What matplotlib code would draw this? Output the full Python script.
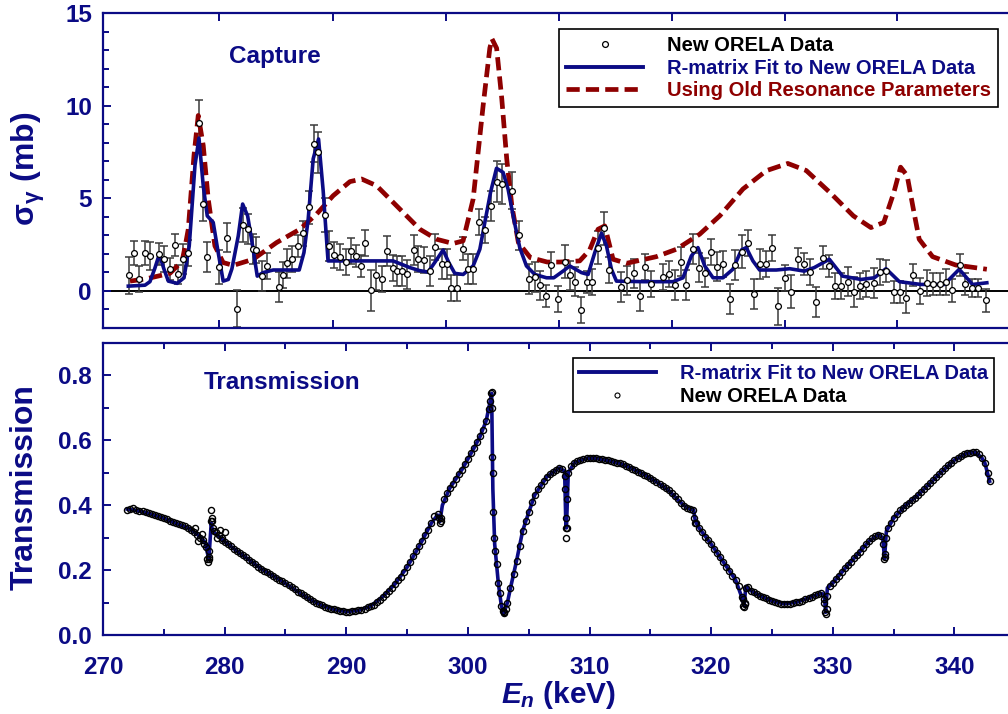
import numpy as np
import matplotlib
matplotlib.use("Agg")
import matplotlib.pyplot as plt
from matplotlib.lines import Line2D
from matplotlib.ticker import MultipleLocator, FixedLocator, NullFormatter

plt.rcParams['font.family'] = ['Liberation Sans', 'DejaVu Sans']
plt.rcParams['font.weight'] = 'bold'
plt.rcParams['mathtext.fontset'] = 'custom'
plt.rcParams['mathtext.rm'] = 'Liberation Sans'
plt.rcParams['mathtext.it'] = 'Liberation Sans:italic:bold'
plt.rcParams['mathtext.bf'] = 'Liberation Sans:bold'

NAVY = '#0b0b85'
DKRED = '#8e0000'

# ---------------- capture data (keV, mb) ----------------
cap_e = [272.16, 272.55, 272.96, 273.45, 273.86, 274.63, 275.01, 275.50, 275.89, 276.19,
         276.60, 277.01, 277.91, 278.19, 278.57, 279.53, 280.16, 280.99, 281.48, 281.89,
         282.30, 282.60, 283.04, 283.45, 284.46, 284.82, 285.15, 285.53, 286.05, 286.46,
         286.93, 287.31, 287.69, 288.24, 288.60, 288.98, 289.47, 289.97, 290.38, 290.79,
         291.17, 291.58, 292.07, 292.48, 292.90, 293.31, 293.80, 294.18, 294.59, 295.00,
         295.55, 295.91, 296.38, 296.87, 297.33, 297.83, 298.24, 298.65, 299.14, 299.56,
         300.02, 300.43, 300.92, 301.39, 301.88, 302.35, 302.81, 303.61, 304.21, 304.99,
         305.55, 305.96, 306.43, 306.87, 307.42, 307.95, 308.36, 308.81, 309.28, 309.78,
         310.19, 310.72, 311.16, 311.58, 312.60, 313.09, 313.62, 314.17, 314.54, 315.09,
         316.05, 316.52, 317.02, 317.52, 317.93, 318.49, 318.96, 319.46, 319.98, 320.49,
         321.01, 321.51, 321.95, 322.51, 323.03, 323.53, 324.03, 324.50, 325.00, 325.52,
         326.10, 326.60, 327.10, 327.60, 328.12, 328.60, 329.16, 329.70, 330.18, 330.68,
         331.27, 331.76, 332.25, 332.75, 333.35, 333.87, 334.40, 335.00, 335.50, 336.00,
         336.61, 337.16, 337.73, 338.25, 338.80, 339.30, 339.79, 340.45, 340.89, 341.48,
         341.90, 342.58]
cap_v = [0.84, 2.03, 0.66, 2.03, 1.89, 1.98, 1.71, 1.17, 2.48, 0.89,
         1.74, 2.03, 9.08, 4.69, 1.83, 1.29, 2.88, -0.97, 3.55, 3.33,
         2.25, 2.20, 0.80, 1.35, 0.22, 0.84, 1.49, 1.71, 2.43, 3.10,
         4.51, 7.94, 7.49, 4.09, 2.43, 1.94, 1.83, 1.56, 2.16, 1.89,
         1.35, 2.61, 0.03, 0.84, 0.62, 2.16, 1.22, 1.07, 1.07, 0.89,
         2.21, 1.71, 1.65, 1.07, 2.38, 1.44, 1.44, 0.17, 0.17, 2.29,
         1.17, 1.17, 3.73, 3.30, 4.60, 5.90, 5.77, 5.41, 3.00, 0.66,
         0.75, 0.30, -0.28, 1.40, -0.41, 1.58, 0.84, 0.50, -1.04, 0.50,
         0.50, 2.34, 3.37, 1.13, 0.23, 0.57, 0.95, -0.28, 1.29, 0.39,
         0.75, 0.89, 0.31, 1.58, 0.31, 2.25, 1.26, 0.99, 2.10, 1.31,
         1.44, -0.42, 1.40, 2.12, 2.61, -0.15, 1.47, 1.44, 2.34, -0.82,
         0.71, -0.04, 1.71, 1.44, 1.02, -0.61, 1.80, 1.35, 0.26, 0.26,
         0.50, -0.04, 0.26, 0.39, 0.44, 1.02, 1.07, -0.06, -0.06, -0.37,
         0.86, 0.00, 0.44, 0.39, 0.39, 0.50, 0.03, 1.38, 0.39, 0.17,
         0.17, -0.51]
cap_err = [1.0, 0.65, 0.7, 0.65, 0.75, 0.6, 0.7, 0.6, 0.6, 0.5,
           0.8, 0.7, 1.2, 0.9, 0.8, 0.9, 0.8, 1.0, 0.9, 0.8,
           0.8, 0.7, 0.8, 0.7, 0.8, 0.7, 0.8, 0.7, 0.6, 0.7,
           0.9, 1.0, 1.1, 0.9, 0.8, 0.7, 0.7, 0.7, 0.7, 0.6,
           0.6, 0.7, 1.1, 0.8, 0.7, 0.8, 0.7, 0.8, 0.8, 0.8,
           0.8, 0.7, 0.7, 0.8, 0.7, 0.8, 0.8, 0.7, 0.7, 0.6,
           0.8, 0.8, 0.7, 0.7, 0.8, 1.1, 1.1, 1.0, 0.8, 0.8,
           0.8, 0.8, 0.6, 0.7, 0.7, 0.9, 0.8, 0.8, 0.7, 0.6,
           0.7, 0.9, 0.9, 0.7, 0.8, 0.8, 0.8, 0.8, 0.7, 0.7,
           0.7, 0.7, 0.8, 0.8, 0.8, 0.8, 0.8, 0.8, 0.7, 0.8,
           0.7, 0.8, 0.8, 0.9, 0.7, 0.8, 0.8, 0.7, 0.7, 1.0,
           0.7, 0.9, 0.6, 0.6, 0.7, 0.8, 0.6, 0.6, 0.7, 0.7,
           0.8, 0.8, 0.7, 0.7, 0.8, 0.7, 0.6, 0.6, 0.6, 0.8,
           0.6, 0.7, 0.7, 0.6, 0.6, 0.7, 0.6, 0.6, 0.6, 0.5,
           0.5, 0.6]

# R-matrix fit to capture
fit_e = [272.08, 273.45, 273.86, 274.25, 274.63, 275.0, 275.37, 276.1, 276.66, 277.09,
         277.56, 277.89, 278.24, 278.57, 279.06, 279.47, 279.88, 280.3, 280.6, 281.12,
         281.48, 281.89, 282.3, 282.68, 283.17, 283.99, 285.09, 286.13, 286.52, 286.87,
         287.28, 287.72, 288.1, 288.5, 288.92, 290.0, 291.0, 292.0, 293.85, 294.5,
         295.23, 296.0, 296.73, 297.36, 297.96, 298.43, 298.92, 299.61, 300.43, 300.98,
         301.39, 301.86, 302.35, 302.89, 303.3, 303.77, 304.26, 304.81, 305.5, 306.46,
         307.06, 307.82, 308.37, 309.33, 309.88, 310.43, 310.98, 311.39, 311.8, 312.21,
         314.4, 316.86, 317.68, 318.37, 318.91, 319.47, 320.15, 320.97, 321.78, 322.48,
         322.88, 323.43, 323.98, 325.35, 326.45, 327.65, 328.47, 329.71, 330.8, 332.31,
         333.41, 334.37, 335.47, 337.24, 339.16, 340.39, 341.48, 342.66]
fit_v = [0.26, 0.31, 0.50, 1.2, 1.98, 1.2, 0.53, 0.41, 0.71, 2.43,
         6.77, 8.25, 5.68, 4.05, 3.70, 2.07, 0.53, 0.62, 1.2, 2.97,
         4.69, 4.05, 2.43, 0.80, 0.99, 1.13, 1.13, 1.13, 2.07, 3.88,
         7.13, 8.2, 5.41, 1.62, 1.62, 1.62, 1.62, 1.62, 1.62, 1.45,
         1.26, 1.1, 1.02, 1.62, 2.21, 1.53, 0.95, 0.89, 1.35, 2.25,
         3.70, 5.32, 6.62, 6.40, 5.50, 3.88, 2.34, 1.35, 0.89, 0.71,
         0.71, 1.07, 1.35, 0.99, 0.89, 2.07, 3.12, 2.43, 1.17, 0.53,
         0.50, 0.50, 0.71, 1.89, 2.34, 1.35, 0.71, 0.71, 1.17, 2.21,
         2.34, 1.62, 1.13, 1.13, 1.20, 1.07, 1.26, 1.71, 0.80, 0.62,
         0.71, 1.20, 0.50, 0.35, 0.35, 1.17, 0.35, 0.44]

# calculation with old resonance parameters
old_e = [272.22, 273.59, 275.5, 276.5, 276.75, 277.01, 277.48, 277.83, 278.24, 278.65,
         279.2, 279.88, 280.71, 282.35, 284.27, 286.19, 287.56, 288.92, 290.3, 291.26,
         292.49, 294.4, 296.05, 297.42, 298.78, 299.6, 300.43, 301.25, 301.8, 301.98,
         302.36, 302.78, 303.19, 303.61, 304.15, 305.13, 306.52, 307.55, 309.19, 310.0,
         310.7, 311.25, 311.93, 313.03, 315.49, 317.14, 319.05, 320.7, 322.61, 324.53,
         326.3, 327.81, 329.75, 331.69, 333.13, 334.19, 335.02, 335.57, 336.11, 336.67,
         337.1, 338.2, 340.1, 342.66]
old_v = [0.53, 0.66, 0.95, 1.6, 2.4, 3.33, 7.31, 9.47, 7.85, 4.96,
         2.43, 1.53, 1.38, 1.71, 2.61, 3.33, 4.15, 5.14, 5.90, 6.04,
         5.68, 4.42, 3.33, 2.79, 2.56, 2.70, 4.96, 10.0, 13.1, 13.6,
         13.1, 10.4, 7.13, 4.6, 2.61, 1.8, 1.56, 1.56, 1.62, 2.2,
         3.33, 3.51, 1.71, 1.49, 1.85, 2.25, 3.06, 4.05, 5.5, 6.49,
         6.88, 6.5, 5.32, 4.05, 3.42, 3.7, 5.32, 6.68, 6.22, 4.24,
         2.79, 1.85, 1.40, 1.17]

# ---------------- transmission ----------------
# data read every 0.25 keV starting at 272.0 keV
trans_start = 272.0
trans_step = 0.25
trans_data = [0.386, 0.389, 0.390, 0.386, 0.383, 0.381, 0.378, 0.376, 0.373, 0.370,
              0.366, 0.363, 0.360, 0.356, 0.351, 0.347, 0.344, 0.341, 0.338, 0.336,
              0.331, 0.324, 0.316, 0.308, 0.300, 0.293, 0.270, 0.240, 0.350, 0.318,
              0.308, 0.298, 0.287, 0.281, 0.274, 0.266, 0.259, 0.252, 0.246, 0.239,
              0.232, 0.225, 0.218, 0.211, 0.204, 0.198, 0.193, 0.187, 0.182, 0.176,
              0.171, 0.165, 0.159, 0.154, 0.147, 0.141, 0.134, 0.128, 0.122, 0.116,
              0.110, 0.104, 0.099, 0.095, 0.091, 0.087, 0.084, 0.081, 0.079, 0.077,
              0.075, 0.073, 0.072, 0.072, 0.073, 0.074, 0.076, 0.078, 0.081, 0.085,
              0.089, 0.094, 0.101, 0.109, 0.118, 0.127, 0.136, 0.146, 0.157, 0.168,
              0.180, 0.194, 0.209, 0.225, 0.242, 0.258, 0.274, 0.291, 0.307, 0.323,
              0.345, 0.368, 0.372, 0.350, 0.420, 0.438, 0.452, 0.466, 0.481, 0.495,
              0.509, 0.526, 0.543, 0.560, 0.576, 0.594, 0.612, 0.633, 0.660, 0.697,
              0.550, 0.260, 0.160, 0.090, 0.070, 0.100, 0.145, 0.188, 0.229, 0.275,
              0.321, 0.352, 0.378, 0.410, 0.432, 0.450, 0.463, 0.476, 0.488, 0.496,
              0.503, 0.510, 0.515, 0.512, 0.450, 0.500, 0.522, 0.531, 0.536, 0.540,
              0.543, 0.545, 0.546, 0.546, 0.545, 0.544, 0.542, 0.540, 0.538, 0.535,
              0.533, 0.531, 0.529, 0.526, 0.522, 0.518, 0.513, 0.508, 0.503, 0.499,
              0.494, 0.490, 0.484, 0.478, 0.472, 0.465, 0.459, 0.453, 0.446, 0.437,
              0.428, 0.418, 0.408, 0.399, 0.392, 0.389, 0.386, 0.345, 0.330, 0.316,
              0.303, 0.294, 0.280, 0.266, 0.253, 0.239, 0.225, 0.211, 0.197, 0.183,
              0.170, 0.150, 0.118, 0.095, 0.148, 0.137, 0.131, 0.126, 0.121, 0.117,
              0.113, 0.109, 0.105, 0.101, 0.098, 0.097, 0.096, 0.096, 0.097, 0.099,
              0.101, 0.103, 0.106, 0.110, 0.114, 0.118, 0.122, 0.125, 0.128, 0.110,
              0.080, 0.150, 0.160, 0.172, 0.183, 0.195, 0.205, 0.216, 0.226, 0.236,
              0.247, 0.257, 0.268, 0.280, 0.290, 0.298, 0.306, 0.309, 0.304, 0.240,
              0.330, 0.345, 0.360, 0.373, 0.384, 0.392, 0.400, 0.408, 0.416, 0.423,
              0.431, 0.440, 0.450, 0.459, 0.468, 0.477, 0.486, 0.495, 0.505, 0.514,
              0.523, 0.531, 0.539, 0.546, 0.552, 0.557, 0.560, 0.562, 0.563, 0.563,
              0.558, 0.546, 0.530, 0.500]
trans_e = trans_start + trans_step * np.arange(len(trans_data))

# extra data points around the narrow resonances
res_e = [277.6, 277.8, 278.1, 278.3, 278.55, 278.62, 278.68, 278.72, 278.85, 278.9,
         278.95, 279.05, 279.15, 279.4, 279.6, 279.8, 280.0, 297.6, 297.68, 297.75,
         301.85, 301.92, 301.96, 301.99, 302.03, 302.07, 302.12, 302.35, 302.62, 302.85,
         302.95, 303.1, 307.95, 308.03, 308.06, 308.09, 308.12, 308.15, 318.6, 318.68,
         322.6, 322.65, 322.72, 322.8, 322.9, 329.3, 329.37, 329.42, 329.5, 334.15,
         334.22, 334.3, 334.37, 342.89]
res_v = [0.330, 0.290, 0.310, 0.280, 0.235, 0.225, 0.235, 0.260, 0.350, 0.385,
         0.360, 0.330, 0.320, 0.300, 0.325, 0.292, 0.318, 0.360, 0.345, 0.360,
         0.720, 0.745, 0.748, 0.700, 0.500, 0.380, 0.300, 0.220, 0.130, 0.075,
         0.068, 0.080, 0.490, 0.360, 0.330, 0.300, 0.330, 0.420, 0.360, 0.345,
         0.110, 0.090, 0.085, 0.100, 0.145, 0.100, 0.070, 0.065, 0.120, 0.280,
         0.235, 0.250, 0.300, 0.474]

# R-matrix fit to transmission
tfit_e = [272.0, 273.0, 274.0, 275.0, 276.0, 277.0, 277.5, 278.0, 278.4, 278.6,
          278.7, 278.8, 278.9, 279.0, 279.5, 280.0, 281.0, 282.0, 283.0, 284.0,
          285.0, 286.0, 287.0, 288.0, 289.0, 290.0, 291.0, 292.0, 293.0, 294.0,
          295.0, 296.0, 297.0, 297.5, 297.7, 297.9, 298.5, 299.5, 300.5, 301.0,
          301.5, 301.8, 301.95, 302.05, 302.2, 302.5, 302.75, 302.95, 303.25, 303.5,
          304.0, 304.5, 305.0, 305.5, 306.5, 307.5, 307.95, 308.05, 308.1, 308.25,
          308.75, 309.75, 310.5, 311.5, 312.5, 313.5, 314.5, 315.5, 316.5, 317.5,
          318.0, 318.55, 318.7, 319.0, 320.0, 321.0, 322.0, 322.5, 322.7, 322.85,
          323.25, 324.0, 325.0, 326.0, 327.0, 328.0, 329.0, 329.3, 329.4, 329.55,
          330.0, 331.0, 332.0, 333.0, 333.75, 334.1, 334.25, 334.4, 335.0, 336.0,
          337.0, 338.0, 339.0, 340.0, 341.0, 341.75, 342.25, 342.5, 342.89]
tfit_v = [0.388, 0.382, 0.372, 0.360, 0.344, 0.330, 0.318, 0.302, 0.285, 0.250,
          0.232, 0.290, 0.345, 0.320, 0.305, 0.288, 0.259, 0.232, 0.204, 0.182,
          0.159, 0.134, 0.110, 0.091, 0.079, 0.072, 0.076, 0.089, 0.118, 0.157,
          0.209, 0.274, 0.345, 0.370, 0.350, 0.400, 0.452, 0.509, 0.576, 0.612,
          0.660, 0.715, 0.745, 0.450, 0.280, 0.160, 0.090, 0.067, 0.100, 0.145,
          0.229, 0.321, 0.378, 0.432, 0.488, 0.515, 0.505, 0.340, 0.330, 0.500,
          0.531, 0.545, 0.545, 0.538, 0.529, 0.513, 0.494, 0.472, 0.446, 0.408,
          0.392, 0.386, 0.350, 0.330, 0.280, 0.225, 0.170, 0.118, 0.090, 0.150,
          0.137, 0.121, 0.105, 0.096, 0.101, 0.114, 0.128, 0.125, 0.070, 0.145,
          0.160, 0.205, 0.247, 0.290, 0.309, 0.300, 0.235, 0.320, 0.360, 0.400,
          0.431, 0.468, 0.505, 0.539, 0.560, 0.563, 0.546, 0.530, 0.474]

# unlabeled tick marks of the capture panel
cap_xticks = [279.53, 288.87, 298.19, 307.5, 316.78, 326.04, 335.27]

# ---------------- figure ----------------
fig = plt.figure(figsize=(10.08, 7.14), dpi=100)
W, H = 1008.0, 714.0
ax1 = fig.add_axes([103 / W, 1 - 328 / H, 1 - 103 / W, (328 - 13) / H])
ax2 = fig.add_axes([103 / W, 1 - 635 / H, 1 - 103 / W, (635 - 343) / H])

xmin, xmax = 270, 344.4

# capture panel
ax1.axhline(0, color='black', lw=1.4, zorder=1)
ax1.errorbar(cap_e, cap_v, yerr=cap_err, fmt='none', ecolor='#3a3a3a',
             elinewidth=1.1, capsize=3, capthick=1.1, zorder=2)
ax1.plot(old_e, old_v, color=DKRED, lw=3.4, dashes=(2.8, 1.3), zorder=3)
ax1.plot(fit_e, fit_v, color=NAVY, lw=2.6, zorder=4)
ax1.plot(cap_e, cap_v, 'o', ms=4.2, mfc='white', mec='black', mew=0.9, zorder=5)

ax1.set_xlim(xmin, xmax)
ax1.set_ylim(-2, 15)
ax1.xaxis.set_major_locator(FixedLocator(cap_xticks))
ax1.xaxis.set_major_formatter(NullFormatter())
ax1.yaxis.set_major_locator(MultipleLocator(5))
ax1.yaxis.set_minor_locator(MultipleLocator(1))
ax1.set_yticks([0, 5, 10, 15])

ax1.text(0.19, 0.863, 'Capture', transform=ax1.transAxes, ha='center', va='center',
         fontsize=17.5, fontweight='bold', color=NAVY)

h_data = Line2D([], [], ls='none', marker='o', ms=4.2, mfc='white', mec='black', mew=0.9)
h_fit = Line2D([], [], color=NAVY, lw=2.8)
h_old = Line2D([], [], color=DKRED, lw=3.4, dashes=(2.8, 1.3))
leg1 = ax1.legend([h_data, h_fit, h_old],
                  ['New ORELA Data', 'R-matrix Fit to New ORELA Data', 'Using Old Resonance Parameters'],
                  loc='upper right', bbox_to_anchor=(0.989, 0.949), borderaxespad=0,
                  fontsize=14.5, handlelength=3.8, handletextpad=1.2, labelspacing=0.18,
                  borderpad=0.35, fancybox=False, framealpha=1, edgecolor='black')
leg1.get_frame().set_linewidth(1.2)
for t, c in zip(leg1.get_texts(), ['black', NAVY, DKRED]):
    t.set_color(c)

ax1.set_ylabel(r'$\mathrm{σ}_{\mathrm{γ}}$ (mb)', fontsize=23, fontweight='bold', color=NAVY)
ax1.yaxis.label.set_verticalalignment('center')
ax1.yaxis.set_label_coords((28 - 103) / 905, 0.505)

# transmission panel
ax2.plot(tfit_e, tfit_v, color=NAVY, lw=2.6, zorder=2)
ax2.plot(trans_e, trans_data, 'o', ms=4.4, mfc='none', mec='black', mew=1.0, zorder=3)
ax2.plot(res_e, res_v, 'o', ms=4.4, mfc='none', mec='black', mew=1.0, zorder=3)

ax2.set_xlim(xmin, xmax)
ax2.set_ylim(0, 0.9)
ax2.xaxis.set_major_locator(MultipleLocator(10))
ax2.xaxis.set_minor_locator(MultipleLocator(5))
ax2.yaxis.set_major_locator(MultipleLocator(0.2))
ax2.yaxis.set_minor_locator(MultipleLocator(0.1))
ax2.set_yticks([0.0, 0.2, 0.4, 0.6, 0.8])
ax2.set_yticklabels(['0.0', '0.2', '0.4', '0.6', '0.8'])

ax2.text(0.198, 0.866, 'Transmission', transform=ax2.transAxes, ha='center', va='center',
         fontsize=17.5, fontweight='bold', color=NAVY)

h_tfit = Line2D([], [], color=NAVY, lw=2.8)
h_tdata = Line2D([], [], ls='none', marker='o', ms=3.6, mfc='none', mec='black', mew=0.8)
leg2 = ax2.legend([h_tfit, h_tdata], ['R-matrix Fit to New ORELA Data', 'New ORELA Data'],
                  loc='upper right', bbox_to_anchor=(0.9845, 0.9486), borderaxespad=0,
                  fontsize=14.5, handlelength=3.8, handletextpad=1.2, labelspacing=0.18,
                  borderpad=0.3, fancybox=False, framealpha=1, edgecolor='black')
leg2.get_frame().set_linewidth(1.2)
for t, c in zip(leg2.get_texts(), [NAVY, 'black']):
    t.set_color(c)

ax2.set_ylabel('Transmission', fontsize=23, fontweight='bold', color=NAVY)
ax2.yaxis.label.set_verticalalignment('center')
ax2.yaxis.set_label_coords((25 - 103) / 905, 0.505)

fig.text(559 / W, 1 - 703 / H, r'$E_n$ (keV)', ha='center', va='baseline',
         fontsize=21.5, fontweight='bold', color=NAVY)

for ax in (ax1, ax2):
    for side in ('left', 'bottom', 'top'):
        ax.spines[side].set_color(NAVY)
        ax.spines[side].set_linewidth(1.6)
    ax.spines['right'].set_visible(False)
    ax.tick_params(which='both', direction='in', top=True, right=False, color=NAVY, width=1.4)
    ax.tick_params(which='major', length=6)
    ax.tick_params(which='minor', length=4)
    ax.tick_params(axis='y', labelsize=17.5, labelcolor=NAVY, pad=8)
    ax.tick_params(axis='x', labelsize=17.5, labelcolor=NAVY, pad=15)
    for lab in ax.get_xticklabels() + ax.get_yticklabels():
        lab.set_fontweight('bold')

fig.savefig('out.png', dpi=100)
